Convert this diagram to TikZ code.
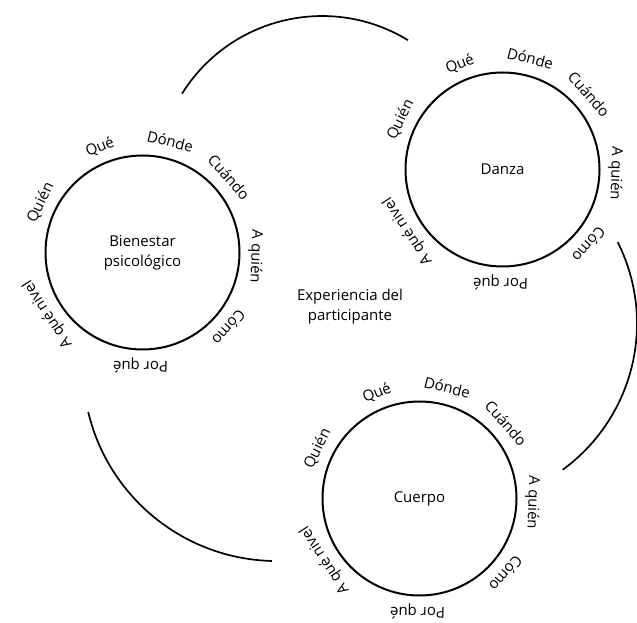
\documentclass[tikz,border=0pt]{standalone}
\usepackage{fontspec}
\setmainfont{Open Sans}
\tikzstyle{c} = [circle, draw, line width=2pt, minimum size=194pt, align=center, font=\fontsize{15}{20}\selectfont]
\tikzstyle{w} = [anchor=base, inner sep=0pt, font=\fontsize{15}{18}\selectfont]
\tikzstyle{ring} = [line width=1.7pt]

\begin{document}
\begin{tikzpicture}[x=1pt, y=1pt]
    \useasboundingbox (0,0) rectangle (637,623);

    \node[c] (B) at (142.5,370.5) {Bienestar\\psicológico};
    \node[c] (D) at (502.5,453.5) {Danza};
    \node[c] (C) at (419.5,124.5) {Cuerpo};
    \node[align=center, font=\fontsize{15}{20}\selectfont] (E) at (350,316) {Experiencia del\\participante};

    % words round Bienestar
    \node[w, rotate=64]   at ([shift={(154:11)}]B.154) {Quién};
    \node[w, rotate=22]   at ([shift={(112:11)}]B.112) {Qué};
    \node[w, rotate=-14]  at ([shift={(76:11)}]B.76) {Dónde};
    \node[w, rotate=-49]  at ([shift={(41:11)}]B.41) {Cuándo};
    \node[w, rotate=-92]  at ([shift={(-2:11)}]B.-2) {A quién};
    \node[w, rotate=-131] at ([shift={(-41:11)}]B.-41) {Cómo};
    \node[w, rotate=179]  at ([shift={(-91:11)}]B.-91) {Por qué};
    \node[w, rotate=123]  at ([shift={(213:11)}]B.213) {A qué nivel};

    % words round Danza
    \node[w, rotate=64]   at ([shift={(154:11)}]D.154) {Quién};
    \node[w, rotate=22]   at ([shift={(112:11)}]D.112) {Qué};
    \node[w, rotate=-14]  at ([shift={(76:11)}]D.76) {Dónde};
    \node[w, rotate=-49]  at ([shift={(41:11)}]D.41) {Cuándo};
    \node[w, rotate=-92]  at ([shift={(-2:11)}]D.-2) {A quién};
    \node[w, rotate=-131] at ([shift={(-41:11)}]D.-41) {Cómo};
    \node[w, rotate=179]  at ([shift={(-91:11)}]D.-91) {Por qué};
    \node[w, rotate=123]  at ([shift={(213:11)}]D.213) {A qué nivel};

    % words round Cuerpo
    \node[w, rotate=64]   at ([shift={(154:11)}]C.154) {Quién};
    \node[w, rotate=22]   at ([shift={(112:11)}]C.112) {Qué};
    \node[w, rotate=-14]  at ([shift={(76:11)}]C.76) {Dónde};
    \node[w, rotate=-49]  at ([shift={(41:11)}]C.41) {Cuándo};
    \node[w, rotate=-92]  at ([shift={(-2:11)}]C.-2) {A quién};
    \node[w, rotate=-131] at ([shift={(-41:11)}]C.-41) {Cómo};
    \node[w, rotate=179]  at ([shift={(-91:11)}]C.-91) {Por qué};
    \node[w, rotate=123]  at ([shift={(213:11)}]C.213) {A qué nivel};

    % outer arcs
    \coordinate (t1) at (182.1,529.4);
    \coordinate (r1) at (617.7,380.8);
    \coordinate (l1) at (88.2,211.0);
    \draw[ring] (t1) arc[start angle=148, end angle=58.6, radius=165];
    \draw[ring] (r1) arc[start angle=26.7, end angle=-53.9, radius=181];
    \draw[ring] (l1) arc[start angle=193.4, end angle=268.5, radius=194];

\end{tikzpicture}
\end{document}
